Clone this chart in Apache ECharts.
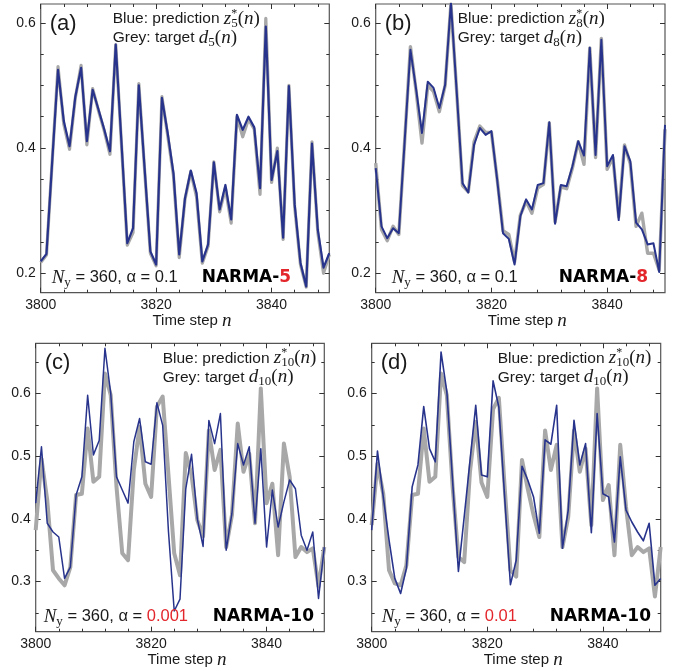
<!DOCTYPE html>
<html>
<head>
<meta charset="utf-8">
<title>NARMA prediction vs target</title>
<script src="https://cdn.jsdelivr.net/npm/echarts@6/dist/echarts.min.js"></script>
<style>
html, body { margin: 0; padding: 0; background: #fff; }
#chart { width: 689px; height: 671px; }
</style>
</head>
<body>
<div id="chart"></div>
<script>
// time steps n
var steps = [3800, 3801, 3802, 3803, 3804, 3805, 3806, 3807, 3808, 3809,
  3810, 3811, 3812, 3813, 3814, 3815, 3816, 3817, 3818, 3819,
  3820, 3821, 3822, 3823, 3824, 3825, 3826, 3827, 3828, 3829,
  3830, 3831, 3832, 3833, 3834, 3835, 3836, 3837, 3838, 3839,
  3840, 3841, 3842, 3843, 3844, 3845, 3846, 3847, 3848, 3849, 3850]

// (a) NARMA-5
var predA = [0.219, 0.231, 0.38, 0.525, 0.443, 0.403, 0.482, 0.528, 0.411, 0.493,
  0.462, 0.43, 0.395, 0.565, 0.408, 0.248, 0.272, 0.5, 0.368, 0.235,
  0.214, 0.48, 0.424, 0.36, 0.23, 0.32, 0.364, 0.328, 0.219, 0.246,
  0.377, 0.302, 0.341, 0.286, 0.453, 0.429, 0.45, 0.433, 0.336, 0.594,
  0.349, 0.395, 0.257, 0.499, 0.31, 0.217, 0.179, 0.407, 0.27, 0.209, 0.232]
var targetA = [0.217, 0.229, 0.38, 0.53, 0.438, 0.398, 0.48, 0.532, 0.405, 0.495,
  0.46, 0.428, 0.39, 0.565, 0.405, 0.245, 0.265, 0.503, 0.365, 0.232,
  0.212, 0.482, 0.42, 0.356, 0.225, 0.318, 0.362, 0.322, 0.216, 0.243,
  0.378, 0.298, 0.336, 0.28, 0.45, 0.418, 0.446, 0.43, 0.326, 0.607,
  0.345, 0.4, 0.254, 0.5, 0.306, 0.214, 0.178, 0.41, 0.266, 0.2, 0.23]

// (b) NARMA-8
var predB = [0.368, 0.275, 0.256, 0.272, 0.264, 0.41, 0.557, 0.493, 0.424, 0.506,
  0.496, 0.464, 0.501, 0.632, 0.49, 0.344, 0.329, 0.405, 0.432, 0.421,
  0.427, 0.349, 0.264, 0.255, 0.214, 0.291, 0.318, 0.302, 0.341, 0.344,
  0.441, 0.279, 0.341, 0.339, 0.371, 0.411, 0.388, 0.56, 0.389, 0.573,
  0.371, 0.389, 0.285, 0.403, 0.379, 0.281, 0.27, 0.246, 0.248, 0.202, 0.437]
var targetB = [0.376, 0.27, 0.252, 0.275, 0.262, 0.41, 0.562, 0.49, 0.408, 0.5,
  0.49, 0.458, 0.5, 0.63, 0.49, 0.34, 0.33, 0.41, 0.435, 0.425,
  0.425, 0.35, 0.268, 0.262, 0.218, 0.293, 0.315, 0.296, 0.336, 0.342,
  0.44, 0.282, 0.338, 0.335, 0.368, 0.41, 0.374, 0.56, 0.385, 0.575,
  0.366, 0.385, 0.29, 0.405, 0.375, 0.275, 0.296, 0.232, 0.232, 0.205, 0.43]

// (c) NARMA-10, alpha = 0.001
var predC = [0.425, 0.515, 0.393, 0.379, 0.371, 0.305, 0.323, 0.438, 0.467, 0.597,
  0.502, 0.525, 0.672, 0.6, 0.467, 0.446, 0.425, 0.523, 0.56, 0.491,
  0.487, 0.585, 0.549, 0.38, 0.253, 0.272, 0.448, 0.503, 0.4, 0.356,
  0.557, 0.52, 0.568, 0.35, 0.409, 0.52, 0.486, 0.515, 0.393, 0.512,
  0.355, 0.446, 0.387, 0.427, 0.462, 0.448, 0.374, 0.35, 0.379, 0.273, 0.355]
var targetC = [0.382, 0.496, 0.43, 0.318, 0.305, 0.294, 0.323, 0.438, 0.44, 0.544,
  0.459, 0.467, 0.632, 0.597, 0.451, 0.345, 0.334, 0.478, 0.547, 0.456,
  0.435, 0.579, 0.595, 0.47, 0.345, 0.31, 0.505, 0.47, 0.398, 0.372,
  0.541, 0.478, 0.51, 0.355, 0.406, 0.552, 0.475, 0.504, 0.393, 0.608,
  0.425, 0.456, 0.342, 0.52, 0.467, 0.339, 0.355, 0.347, 0.353, 0.292, 0.355]

// (d) NARMA-10, alpha = 0.01
var predD = [0.382, 0.508, 0.435, 0.366, 0.305, 0.281, 0.321, 0.451, 0.486, 0.579,
  0.512, 0.491, 0.666, 0.603, 0.46, 0.316, 0.403, 0.492, 0.581, 0.47,
  0.467, 0.62, 0.578, 0.435, 0.295, 0.334, 0.484, 0.462, 0.435, 0.377,
  0.526, 0.519, 0.581, 0.353, 0.414, 0.557, 0.486, 0.52, 0.378, 0.568,
  0.44, 0.435, 0.363, 0.499, 0.414, 0.395, 0.379, 0.365, 0.393, 0.294, 0.305]
var targetD = [0.39, 0.488, 0.44, 0.318, 0.297, 0.294, 0.326, 0.438, 0.44, 0.544,
  0.459, 0.467, 0.632, 0.597, 0.451, 0.339, 0.331, 0.475, 0.555, 0.458,
  0.435, 0.575, 0.593, 0.451, 0.318, 0.308, 0.494, 0.448, 0.406, 0.371,
  0.541, 0.478, 0.518, 0.355, 0.403, 0.541, 0.475, 0.512, 0.39, 0.608,
  0.43, 0.454, 0.342, 0.518, 0.419, 0.342, 0.355, 0.347, 0.353, 0.276, 0.355]

// tick labels
var xMajorTicks = [3800, 3820, 3840]
var xMinorTicks = [3804, 3808, 3812, 3816, 3824, 3828, 3832, 3836, 3844, 3848]
var yMajorTicksAB = [0.2, 0.4, 0.6]
var yMinorTicksAB = [0.25, 0.3, 0.35, 0.45, 0.5, 0.55]
var yMajorTicksCD = [0.3, 0.4, 0.5, 0.6]
var yMinorTicksCD = [0.25, 0.35, 0.45, 0.55, 0.65]

var BLUE = '#28348c'
var GREY = '#a8a8a8'
var RED = '#e3262b'
var INK = '#1a1a1a'
var SANS = '"Liberation Sans", Arial, sans-serif'
var SERIF = '"Liberation Serif", "Times New Roman", serif'
var HEAVY = '"DejaVu Sans", sans-serif'

var panels = [
  { tag: '(a)', idx: '5', alpha: '0.1', alphaRed: false, narma: 'NARMA-', narmaRed: '5',
    pred: predA, target: targetA, box: [40.7, 4, 288.6, 288.7], yRange: [0.169, 0.63],
    yMajor: yMajorTicksAB, yMinor: yMinorTicksAB, legendX: 72, noteX: 11, narmaX: 161, blueW: 2.2, greyW: 3.2 },
  { tag: '(b)', idx: '8', alpha: '0.1', alphaRed: false, narma: 'NARMA-', narmaRed: '8',
    pred: predB, target: targetB, box: [375.7, 4, 289.3, 288.7], yRange: [0.169, 0.63],
    yMajor: yMajorTicksAB, yMinor: yMinorTicksAB, legendX: 82, noteX: 16, narmaX: 183, blueW: 2, greyW: 3.4 },
  { tag: '(c)', idx: '10', alpha: '0.001', alphaRed: true, narma: 'NARMA-10', narmaRed: '',
    pred: predC, target: targetC, box: [35.7, 343.3, 288.6, 288.4], yRange: [0.22, 0.68],
    yMajor: yMajorTicksCD, yMinor: yMinorTicksCD, legendX: 127, noteX: 8, narmaX: 177, blueW: 1.5, greyW: 4 },
  { tag: '(d)', idx: '10', alpha: '0.01', alphaRed: true, narma: 'NARMA-10', narmaRed: '',
    pred: predD, target: targetD, box: [371.7, 343.3, 289, 288.4], yRange: [0.22, 0.68],
    yMajor: yMajorTicksCD, yMinor: yMinorTicksCD, legendX: 126, noteX: 10, narmaX: 178, blueW: 1.6, greyW: 4 }
]

var tickLine = { color: '#333', width: 1 }

function zip(xs, ys) {
  return xs.map(function (x, i) { return [x, ys[i]] })
}

var grids = []
var xAxes = []
var yAxes = []
var series = []
var graphics = []

panels.forEach(function (p, g) {
  var L = p.box[0], T = p.box[1], W = p.box[2], H = p.box[3]
  grids.push({
    left: L, top: T, width: W, height: H,
    show: true, borderColor: '#555', borderWidth: 1.2,
    containLabel: false, outerBoundsMode: 'none'
  })

  var xBase = { type: 'value', gridIndex: g, min: 3800, max: 3850,
    axisLine: { show: false }, splitLine: { show: false } }
  var xMainIndex = xAxes.length
  xAxes.push(Object.assign({}, xBase, {
    position: 'bottom',
    axisTick: { inside: true, length: 5, customValues: xMajorTicks, lineStyle: tickLine },
    axisLabel: { customValues: xMajorTicks, margin: 5, fontSize: 14, color: INK, fontFamily: SANS,
      formatter: function (v) { return String(v) } }
  }))
  xAxes.push(Object.assign({}, xBase, {
    position: 'bottom',
    axisTick: { inside: true, length: 3, customValues: xMinorTicks, lineStyle: tickLine },
    axisLabel: { show: false }
  }))
  xAxes.push(Object.assign({}, xBase, {
    position: 'top',
    axisTick: { inside: true, length: 5, customValues: xMajorTicks, lineStyle: tickLine },
    axisLabel: { show: false }
  }))
  xAxes.push(Object.assign({}, xBase, {
    position: 'top',
    axisTick: { inside: true, length: 3, customValues: xMinorTicks, lineStyle: tickLine },
    axisLabel: { show: false }
  }))

  var yBase = { type: 'value', gridIndex: g, min: p.yRange[0], max: p.yRange[1],
    axisLine: { show: false }, splitLine: { show: false } }
  var yMainIndex = yAxes.length
  yAxes.push(Object.assign({}, yBase, {
    position: 'left',
    axisTick: { inside: true, length: 5, customValues: p.yMajor, lineStyle: tickLine },
    axisLabel: { customValues: p.yMajor, margin: 5, fontSize: 14, color: INK, fontFamily: SANS,
      formatter: function (v) { return v.toFixed(1) } }
  }))
  yAxes.push(Object.assign({}, yBase, {
    position: 'left',
    axisTick: { inside: true, length: 3, customValues: p.yMinor, lineStyle: tickLine },
    axisLabel: { show: false }
  }))
  yAxes.push(Object.assign({}, yBase, {
    position: 'right',
    axisTick: { inside: true, length: 5, customValues: p.yMajor, lineStyle: tickLine },
    axisLabel: { show: false }
  }))
  yAxes.push(Object.assign({}, yBase, {
    position: 'right',
    axisTick: { inside: true, length: 3, customValues: p.yMinor, lineStyle: tickLine },
    axisLabel: { show: false }
  }))

  // grey target underneath, blue prediction on top
  series.push({
    type: 'line', xAxisIndex: xMainIndex, yAxisIndex: yMainIndex,
    data: zip(steps, p.target), showSymbol: false, clip: true,
    lineStyle: { color: GREY, width: p.greyW, join: 'round' }, z: 2
  })
  series.push({
    type: 'line', xAxisIndex: xMainIndex, yAxisIndex: yMainIndex,
    data: zip(steps, p.pred), showSymbol: false, clip: true,
    lineStyle: { color: BLUE, width: p.blueW, join: 'round' }, z: 3
  })

  var mathRich = {
    it: { fontFamily: SERIF, fontStyle: 'italic', fontSize: 19, lineHeight: 22 },
    rm: { fontFamily: SERIF, fontSize: 19, lineHeight: 22 },
    // zero width so the star sits right above the subscript
    sup: { fontFamily: SERIF, fontSize: 12, lineHeight: 11, verticalAlign: 'top', width: 0 },
    sub: { fontFamily: SERIF, fontSize: 13, lineHeight: 11, verticalAlign: 'bottom' },
    red: { fill: RED, fontFamily: SANS, fontSize: 16.5 },
    b: { fontFamily: HEAVY, fontWeight: 'bold', fontSize: 17, fill: '#000' },
    br: { fontFamily: HEAVY, fontWeight: 'bold', fontSize: 17, fill: RED }
  }

  graphics.push({
    type: 'text', x: L + 9, y: T + 20, z: 10,
    style: { text: p.tag, font: '22px ' + SANS, fill: INK, verticalAlign: 'middle' }
  })
  graphics.push({
    type: 'text', x: L + p.legendX, y: T + 15, z: 10,
    style: {
      text: 'Blue: prediction {it|z}{sup|*}{sub|' + p.idx + '}{rm|(}{it|n}{rm|)}',
      font: '15.5px ' + SANS, fill: INK, verticalAlign: 'middle', rich: mathRich
    }
  })
  graphics.push({
    type: 'text', x: L + p.legendX, y: T + 34, z: 10,
    style: {
      text: 'Grey: target {it|d}{sub|' + p.idx + '}{rm|(}{it|n}{rm|)}',
      font: '15.5px ' + SANS, fill: INK, verticalAlign: 'middle', rich: mathRich
    }
  })
  var alphaText = p.alphaRed ? '{red|' + p.alpha + '}' : p.alpha
  graphics.push({
    type: 'text', x: L + p.noteX, y: T + H - 15, z: 10,
    style: {
      text: '{it|N}{sub|y} = 360, \u03b1 = ' + alphaText,
      font: '16.5px ' + SANS, fill: INK, verticalAlign: 'middle', rich: mathRich
    }
  })
  graphics.push({
    type: 'text', x: L + p.narmaX, y: T + H - 15, z: 10,
    style: {
      text: '{b|' + p.narma + '}' + (p.narmaRed ? '{br|' + p.narmaRed + '}' : ''),
      font: 'bold 17px ' + HEAVY, fill: '#000', verticalAlign: 'middle', rich: mathRich
    }
  })
  graphics.push({
    type: 'text', x: L + W / 2 + 7, y: T + H + 28, z: 10,
    style: {
      text: 'Time step {it|n}', font: '15px ' + SANS, fill: INK,
      align: 'center', verticalAlign: 'middle', rich: mathRich
    }
  })
})

var chart = echarts.init(document.getElementById('chart'), null, { renderer: 'canvas' })
chart.setOption({
  animation: false,
  backgroundColor: '#fff',
  grid: grids,
  xAxis: xAxes,
  yAxis: yAxes,
  series: series,
  graphic: graphics
})
</script>
</body>
</html>
